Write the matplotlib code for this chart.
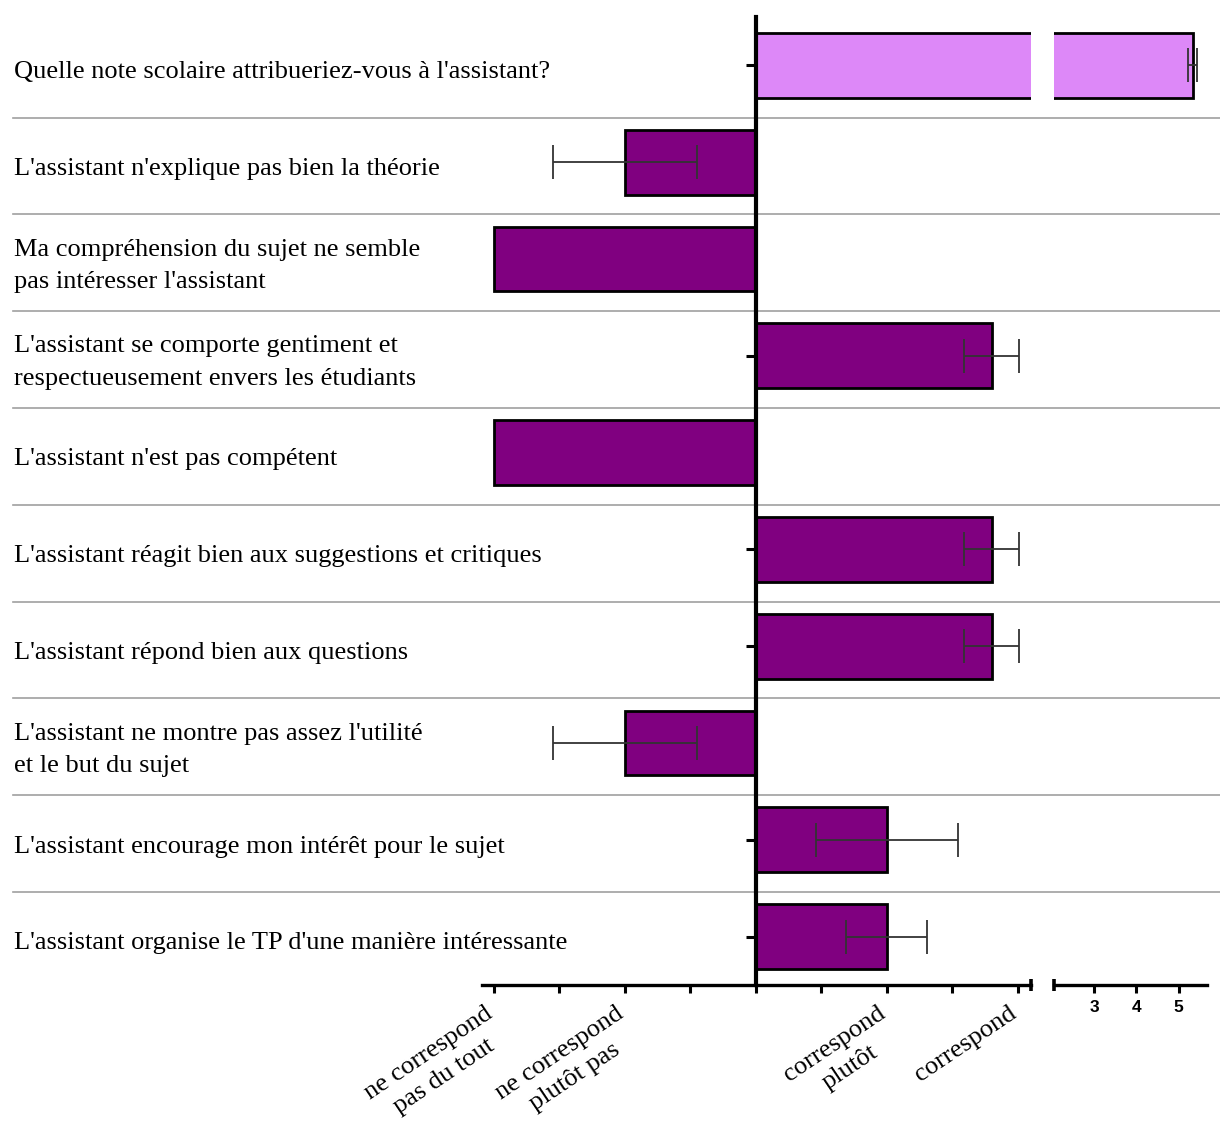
import matplotlib
matplotlib.use("Agg")
import matplotlib.pyplot as plt
from matplotlib.transforms import blended_transform_factory
import numpy as np

# ---------------- data ----------------
questions = [
    "Quelle note scolaire attribueriez-vous à l'assistant?",
    "L'assistant n'explique pas bien la théorie",
    "Ma compréhension du sujet ne semble\npas intéresser l'assistant",
    "L'assistant se comporte gentiment et\nrespectueusement envers les étudiants",
    "L'assistant n'est pas compétent",
    "L'assistant réagit bien aux suggestions et critiques",
    "L'assistant répond bien aux questions",
    "L'assistant ne montre pas assez l'utilité\net le but du sujet",
    "L'assistant encourage mon intérêt pour le sujet",
    "L'assistant organise le TP d'une manière intéressante",
]
# rating items (rows 1..9)
rating_values = [-1.0, -2.0, 1.8, -2.0, 1.8, 1.8, -1.0, 1.0, 1.0]
rating_errors = [0.55, 0.0, 0.21, 0.0, 0.21, 0.21, 0.55, 0.54, 0.31]
# school grade (row 0)
grade_value = 5.33
grade_error = 0.10

scale_ticks = [-2, -1.5, -1, -0.5, 0, 0.5, 1, 1.5, 2]
scale_label_pos = [-2, -1, 1, 2]
scale_labels = ["ne correspond\npas du tout", "ne correspond\nplutôt pas",
                "correspond\nplutôt", "correspond"]
grade_ticks = [3, 4, 5]
grade_labels = ["3", "4", "5"]

# ---------------- style ----------------
W, H = 1220, 1133
fig = plt.figure(figsize=(W / 100, H / 100), dpi=100)

serif = ["Liberation Serif", "DejaVu Serif"]
dark_purple = "#800080"
light_purple = "#DD88F8"
err_color = "#333333"
bar_h = 0.67
spine_w = 2.4

def fx(px):
    return px / W

def fy(py):
    return 1 - py / H

top_px, bot_px = 17, 985
ax1 = fig.add_axes([fx(482), fy(bot_px), fx(1031) - fx(482), fy(top_px) - fy(bot_px)])
ax2 = fig.add_axes([fx(1054), fy(bot_px), fx(1207) - fx(1054), fy(top_px) - fy(bot_px)])

n = len(questions)
rows = np.arange(n)

for ax in (ax1, ax2):
    ax.set_ylim(n - 0.5, -0.5)
    ax.patch.set_alpha(0)
    for s in ("top", "right"):
        ax.spines[s].set_visible(False)
    ax.spines["bottom"].set_linewidth(spine_w)

ax1.set_xlim(-2.09, 2.10)
ax2.set_xlim(2.05, 5.67)

# rating bars
r_rows = rows[1:]
ax1.barh(r_rows, rating_values, height=bar_h, color=dark_purple,
         edgecolor="black", linewidth=2.0, zorder=2)
sel = [i for i, e in enumerate(rating_errors) if e > 0]
ax1.errorbar([rating_values[i] for i in sel], [r_rows[i] for i in sel],
             xerr=[rating_errors[i] for i in sel], fmt="none",
             ecolor=err_color, elinewidth=1.3, capsize=12, capthick=1.3, zorder=3)

# grade bar: drawn in both axes, clipped at the axis break
for ax in (ax1, ax2):
    ax.barh([rows[0]], [grade_value], height=bar_h, color=light_purple,
            edgecolor="black", linewidth=2.0, zorder=2)
ax2.errorbar([grade_value], [rows[0]], xerr=[grade_error], fmt="none",
             ecolor=err_color, elinewidth=1.3, capsize=12, capthick=1.3, zorder=3)

# axis 1 spines / ticks
ax1.spines["left"].set_position(("data", 0))
ax1.spines["left"].set_linewidth(3.0)
ax1.spines["left"].set_zorder(4)
ax1.set_yticks(rows)
ax1.set_yticklabels([])
ax1.tick_params(axis="y", direction="out", length=7, width=2.2, color="black")
ax1.set_xticks(scale_ticks)
ax1.set_xticklabels([])
ax1.tick_params(axis="x", direction="out", length=6, width=2.2)
for xv, lab in zip(scale_label_pos, scale_labels):
    ax1.annotate(lab, xy=(xv, 0), xycoords=("data", "axes fraction"),
                 xytext=(-10, -17), textcoords="offset pixels",
                 rotation=34, ha="right", va="top", rotation_mode="anchor",
                 family=serif, fontsize=19, multialignment="center",
                 linespacing=1.4, annotation_clip=False)

# axis 2
ax2.spines["left"].set_visible(False)
ax2.set_yticks([])
ax2.set_xticks(grade_ticks)
ax2.set_xticklabels(grade_labels, family=["Liberation Sans", "DejaVu Sans"],
                    fontweight="bold", fontsize=12.5)
ax2.tick_params(axis="x", direction="out", length=6, width=2.2, pad=5)

# break marks
ax1.plot([1], [0], transform=ax1.transAxes, marker="|", markersize=9,
         markeredgewidth=2.6, color="black", clip_on=False, zorder=5)
ax2.plot([0], [0], transform=ax2.transAxes, marker="|", markersize=9,
         markeredgewidth=2.6, color="black", clip_on=False, zorder=5)

# row separators and question labels
tr = blended_transform_factory(fig.transFigure, ax1.transData)
for r in rows[:-1]:
    ax1.plot([fx(13), 1.0], [r + 0.54, r + 0.54], transform=tr, color="#a0a0a0",
             linewidth=1.2, clip_on=False, zorder=0)
for r, q in zip(rows, questions):
    ax1.text(fx(14), r + 0.07, q, transform=tr, ha="left", va="center",
             family=serif, fontsize=19, linespacing=1.6)

fig.savefig("out.png", dpi=100)
